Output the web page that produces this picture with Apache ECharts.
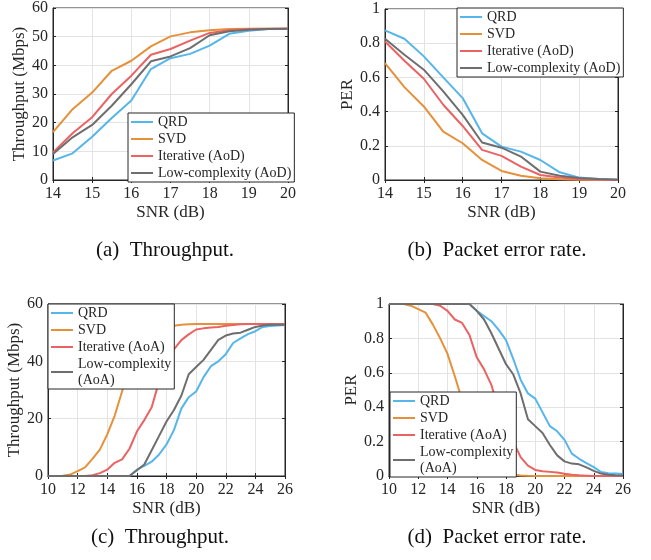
<!DOCTYPE html>
<html lang="en">
<head>
    <meta charset="UTF-8">
    <title>Throughput and PER</title>
    <script src="https://cdn.jsdelivr.net/npm/echarts@6/dist/echarts.min.js"></script>
</head>
<body style="margin:0">
    <div id="main" style="width: 651px;height: 560px;"></div>
    <script>
        // SNR points (dB)
        var snrAB = [14, 14.5, 15, 15.5, 16, 16.5, 17, 17.5, 18, 18.5, 19, 19.5, 20];
        var snrCD = [10, 10.5, 11, 11.5, 12, 12.5, 13, 13.5, 14, 14.5, 15, 15.5, 16, 16.5, 17, 17.5,
            18, 18.5, 19, 19.5, 20, 20.5, 21, 21.5, 22, 22.5, 23, 23.5, 24, 24.5, 25, 25.5, 26];

        // (a) throughput, AoD
        var thrQrdA = [6.8, 9.3, 15.1, 21.6, 27.7, 38.7, 42.5, 44, 46.9, 51, 52.1, 52.7, 52.8];
        var thrSvdA = [16.7, 24.7, 30.5, 38.1, 41.6, 46.6, 50.1, 51.5, 52.2, 52.7, 52.8, 52.8, 52.8];
        var thrIterA = [9.6, 16.3, 21.9, 30, 36.4, 43.7, 45.7, 48.6, 51.3, 52.2, 52.7, 52.8, 52.8];
        var thrLowA = [9.1, 14.9, 19.2, 25.9, 33.4, 41.4, 43.1, 46, 50.5, 51.9, 52.4, 52.7, 52.8];

        // (b) PER, AoD
        var perQrdB = [0.875, 0.826, 0.723, 0.6, 0.479, 0.273, 0.195, 0.166, 0.117, 0.045, 0.014, 0.006, 0.002];
        var perSvdB = [0.684, 0.543, 0.43, 0.283, 0.215, 0.117, 0.053, 0.025, 0.01, 0.004, 0.001, 0, 0];
        var perIterB = [0.81, 0.697, 0.592, 0.44, 0.316, 0.176, 0.141, 0.078, 0.029, 0.014, 0.006, 0.002, 0.001];
        var perLowB = [0.826, 0.732, 0.645, 0.518, 0.381, 0.219, 0.189, 0.137, 0.049, 0.025, 0.012, 0.006, 0.002];

        // (c) throughput, AoA
        var thrQrdC = [0, 0, 0, 0, 0, 0, 0, 0, 0, 0, 0, 0, 2.2, 3.5, 5, 7.5, 11, 16, 23.5, 27.5, 29.5,
            34.5, 38.3, 40, 42.5, 46.4, 48, 49.5, 50.5, 52, 52.3, 52.5, 52.7];
        var thrSvdC = [0, 0, 0.1, 0.5, 1.7, 3, 6, 9.2, 14.5, 21, 29.5, 38, 45, 49, 51, 52, 52.2,
            52.4, 52.8, 52.9, 53, 53, 53, 53, 53, 53, 53, 53, 53, 53, 53, 53, 53];
        var thrIterC = [0, 0, 0, 0, 0, 0, 0.3, 1, 2.2, 4.6, 5.8, 9.5, 15.5, 19.5, 24, 33, 39, 44.2,
            47.4, 49.4, 51.1, 51.5, 51.8, 52, 52.4, 52.7, 52.9, 53, 53, 53, 53, 53, 53];
        var thrLowC = [0, 0, 0, 0, 0, 0, 0, 0, 0, 0, 0, 0, 2, 4, 9, 14, 19, 23, 28, 35.5, 38, 40.5,
            44, 47.5, 49, 49.7, 50, 51, 52, 52.5, 52.8, 52.8, 52.8];

        // (d) PER, AoA
        var perQrdD = [1, 1, 1, 1, 1, 1, 1, 1, 1, 1, 1, 1, 0.96, 0.93, 0.9, 0.85, 0.79, 0.68, 0.56,
            0.48, 0.45, 0.37, 0.29, 0.26, 0.21, 0.13, 0.1, 0.075, 0.052, 0.023, 0.016, 0.014, 0.012];
        var perSvdD = [1, 1, 1, 0.99, 0.97, 0.95, 0.88, 0.8, 0.71, 0.58, 0.44, 0.3, 0.17, 0.09,
            0.05, 0.025, 0.012, 0.007, 0.003, 0.001, 0, 0, 0, 0, 0, 0, 0, 0, 0, 0, 0, 0, 0];
        var perIterD = [1, 1, 1, 1, 1, 1, 1, 0.99, 0.96, 0.91, 0.89, 0.82, 0.69, 0.62, 0.53, 0.38,
            0.26, 0.2, 0.11, 0.06, 0.035, 0.028, 0.024, 0.02, 0.013, 0.008, 0.004, 0.002, 0, 0, 0, 0, 0];
        var perLowD = [1, 1, 1, 1, 1, 1, 1, 1, 1, 1, 1, 1, 0.96, 0.91, 0.83, 0.74, 0.65, 0.59, 0.48,
            0.33, 0.29, 0.25, 0.18, 0.12, 0.085, 0.072, 0.068, 0.05, 0.03, 0.014, 0.007, 0.004, 0.003];

        var namesAoD = ['QRD', 'SVD', 'Iterative (AoD)', 'Low-complexity (AoD)'];
        var namesAoA = ['QRD', 'SVD', 'Iterative (AoA)', 'Low-complexity (AoA)'];
        var colors = ['#55B6E9', '#E6913A', '#EB6262', '#6E6E6E'];

        var font = 'Liberation Serif';
        var ink = '#262626';

        var panels = [
            {
                grid: { left: 53, top: 8, width: 235, height: 172 },
                x: [14, 20, 1], y: [0, 60, 10], yName: 'Throughput (Mbps)', yGap: 21,
                names: namesAoD, snr: snrAB, lines: [thrQrdA, thrSvdA, thrIterA, thrLowA],
                legend: { left: 128, top: 113 }
            },
            {
                grid: { left: 385, top: 9, width: 233, height: 171 },
                x: [14, 20, 1], y: [0, 1, 0.2], yName: 'PER', yGap: 24,
                names: namesAoD, snr: snrAB, lines: [perQrdB, perSvdB, perIterB, perLowB],
                legend: { left: 457, top: 8 }
            },
            {
                grid: { left: 48, top: 304, width: 237, height: 172 },
                x: [10, 26, 2], y: [0, 60, 20], yName: 'Throughput (Mbps)', yGap: 21,
                names: namesAoA, snr: snrCD, lines: [thrQrdC, thrSvdC, thrIterC, thrLowC],
                legend: { left: 48, top: 304 }
            },
            {
                grid: { left: 389, top: 304, width: 234, height: 172 },
                x: [10, 26, 2], y: [0, 1, 0.2], yName: 'PER', yGap: 25,
                names: namesAoA, snr: snrCD, lines: [perQrdD, perSvdD, perIterD, perLowD],
                legend: { left: 390, top: 392 }
            }
        ];

        var captions = [
            { text: '(a)  Throughput.', x: 165, y: 250 },
            { text: '(b)  Packet error rate.', x: 497, y: 250 },
            { text: '(c)  Throughput.', x: 160, y: 537 },
            { text: '(d)  Packet error rate.', x: 497, y: 537 }
        ];

        function fmt(v) {
            return String(Math.round(v * 100) / 100);
        }

        var grids = [], xAxes = [], yAxes = [], series = [], legends = [];

        panels.forEach(function (p, i) {
            grids.push(Object.assign({
                show: true, borderColor: ink, borderWidth: 1, backgroundColor: '#fff'
            }, p.grid));

            // bottom / left axes with labels, top / right only ticks
            xAxes.push({
                type: 'value', gridIndex: i, min: p.x[0], max: p.x[1], interval: p.x[2],
                name: 'SNR (dB)', nameLocation: 'middle', nameGap: 24,
                nameTextStyle: { fontFamily: font, fontSize: 17, color: ink },
                axisLine: { lineStyle: { color: ink } },
                axisTick: { inside: true, length: 3, lineStyle: { color: ink } },
                axisLabel: { fontFamily: font, fontSize: 16, color: ink, margin: 6, formatter: fmt },
                splitLine: { show: true, lineStyle: { color: '#e3e3e3' } }
            });
            xAxes.push({
                type: 'value', gridIndex: i, position: 'top', min: p.x[0], max: p.x[1], interval: p.x[2],
                axisLine: { lineStyle: { color: ink } },
                axisTick: { inside: true, length: 3, lineStyle: { color: ink } },
                axisLabel: { show: false }, splitLine: { show: false }
            });
            yAxes.push({
                type: 'value', gridIndex: i, min: p.y[0], max: p.y[1], interval: p.y[2],
                name: p.yName, nameLocation: 'middle', nameGap: p.yGap, nameRotate: 90,
                nameTextStyle: { fontFamily: font, fontSize: 17, color: ink },
                axisLine: { show: true, lineStyle: { color: ink } },
                axisTick: { show: true, inside: true, length: 3, lineStyle: { color: ink } },
                axisLabel: { fontFamily: font, fontSize: 16, color: ink, margin: 5, formatter: fmt },
                splitLine: { show: true, lineStyle: { color: '#e3e3e3' } }
            });
            yAxes.push({
                type: 'value', gridIndex: i, position: 'right', min: p.y[0], max: p.y[1], interval: p.y[2],
                axisLine: { show: true, lineStyle: { color: ink } },
                axisTick: { show: true, inside: true, length: 3, lineStyle: { color: ink } },
                axisLabel: { show: false }, splitLine: { show: false }
            });

            p.lines.forEach(function (vals, k) {
                series.push({
                    name: p.names[k],
                    type: 'line',
                    xAxisIndex: 2 * i,
                    yAxisIndex: 2 * i,
                    symbol: 'none',
                    clip: false,
                    z: 3,
                    color: colors[k],
                    lineStyle: { width: 2, color: colors[k] },
                    data: p.snr.map(function (s, j) { return [s, vals[j]]; })
                });
            });

            legends.push({
                orient: 'vertical',
                left: p.legend.left,
                top: p.legend.top,
                data: p.names,
                icon: 'rect',
                backgroundColor: '#fff',
                borderColor: ink,
                borderWidth: 1,
                borderRadius: 0,
                padding: [1, 3, 1, 3],
                itemGap: 1,
                itemWidth: 22,
                itemHeight: 2,
                selectedMode: false,
                z: 10,
                textStyle: { fontFamily: font, fontSize: 14, color: ink, lineHeight: 16 },
                formatter: function (name) {
                    return i >= 2 ? name.replace('Low-complexity (AoA)', 'Low-complexity\n(AoA)') : name;
                }
            });
        });

        var myChart = echarts.init(document.getElementById('main'));
        myChart.setOption({
            animation: false,
            backgroundColor: '#fff',
            grid: grids,
            xAxis: xAxes,
            yAxis: yAxes,
            legend: legends,
            series: series,
            graphic: captions.map(function (c) {
                return {
                    type: 'text', x: c.x, y: c.y,
                    style: {
                        text: c.text, fill: '#111', font: '21px "Liberation Serif"',
                        textAlign: 'center', textVerticalAlign: 'middle'
                    }
                };
            })
        });
    </script>
</body>
</html>
